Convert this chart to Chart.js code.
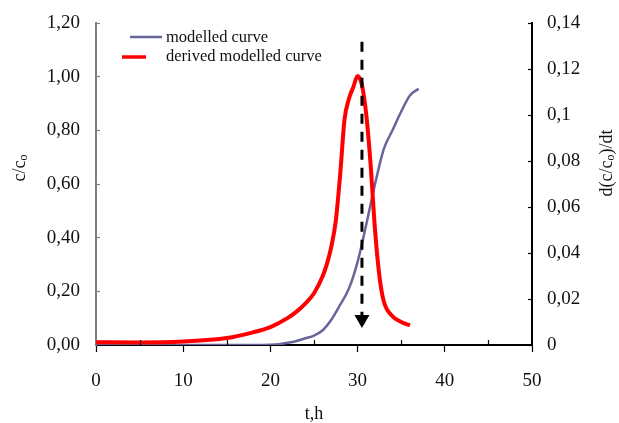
<!DOCTYPE html>
<html><head><meta charset="utf-8">
<script src="https://cdn.jsdelivr.net/npm/chart.js@4"></script>
<style>html,body{margin:0;padding:0;background:#fff}#wrap{width:619px;height:423px}</style>
</head><body><div id="wrap"><canvas id="c" width="619" height="423"></canvas></div>
<script>
const seriesNames = ['modelled curve', 'derived modelled curve'];
const modelTime   = [0, 5, 10, 15, 18, 20, 21, 22, 23, 24, 25, 26, 27, 28, 29, 30, 31, 32, 33, 34, 35, 36, 37];
const modelValues = [0, 0, 0, 0, 0, 0.001, 0.003, 0.008, 0.015, 0.025, 0.035, 0.055, 0.095, 0.15, 0.21, 0.31, 0.45, 0.60, 0.73, 0.80, 0.87, 0.93, 0.955];
const derivTime   = [0, 5, 10, 15, 18, 20, 22, 23, 24, 25, 26, 26.5, 27, 27.5, 28, 28.5, 29, 29.5, 30, 30.5, 31, 31.5, 32, 32.5, 33, 34, 35, 36];
const derivValues = [0.0012, 0.0011, 0.0015, 0.003, 0.0055, 0.0078, 0.0118, 0.0145, 0.018, 0.0225, 0.030, 0.0355, 0.043, 0.054, 0.074, 0.098, 0.107, 0.112, 0.117, 0.113, 0.100, 0.078, 0.050, 0.030, 0.019, 0.0125, 0.010, 0.0085];
const arrowTime   = [30.5, 30.5];
const arrowValues = [1.13, 0.096];
const xTickLabels     = ['0', '10', '20', '30', '40', '50'];
const xMinorTicks     = [5, 15, 25, 35, 45];
const leftTickLabels  = ['0,00', '0,20', '0,40', '0,60', '0,80', '1,00', '1,20'];
const rightTickLabels = ['0', '0,02', '0,04', '0,06', '0,08', '0,1', '0,12', '0,14'];

const FONT = '"Liberation Serif", "Times New Roman", serif';
const BLUE = '#66669c';
const RED = '#ff0000';
const TXT = '#111111';

const pts = (xs, ys) => xs.map((x, i) => ({x: x, y: ys[i]}));
const noPad = s => { s.paddingTop = 0; s.paddingBottom = 0; s.paddingLeft = 0; s.paddingRight = 0; };

const extras = {
  id: 'extras',
  afterDraw(chart) {
    const ctx = chart.ctx;
    const ca = chart.chartArea;
    const xs = chart.scales.x;
    ctx.save();
    ctx.strokeStyle = '#000';
    ctx.lineWidth = 1.2;
    xMinorTicks.forEach(v => {
      const px = Math.round(xs.getPixelForValue(v)) + 0.5;
      ctx.beginPath(); ctx.moveTo(px, ca.bottom); ctx.lineTo(px, ca.bottom - 5); ctx.stroke();
    });
    ctx.lineCap = 'butt';
    ctx.strokeStyle = BLUE; ctx.lineWidth = 2.5;
    ctx.beginPath(); ctx.moveTo(130, 37); ctx.lineTo(162, 37); ctx.stroke();
    ctx.strokeStyle = RED; ctx.lineWidth = 3.5;
    ctx.beginPath(); ctx.moveTo(122, 57); ctx.lineTo(146, 57); ctx.stroke();
    ctx.fillStyle = TXT;
    ctx.font = '16.5px ' + FONT;
    ctx.textAlign = 'left'; ctx.textBaseline = 'middle';
    ctx.fillText(seriesNames[0], 166, 38);
    ctx.fillText(seriesNames[1], 166, 57);
    ctx.font = '18px ' + FONT;
    ctx.textAlign = 'center';
    ctx.fillText('t,h', (ca.left + ca.right) / 2, 414);
    function rotTitle(parts, cx, cy) {
      ctx.save();
      ctx.translate(cx, cy);
      ctx.rotate(-Math.PI / 2);
      ctx.textAlign = 'left'; ctx.textBaseline = 'middle';
      let total = 0;
      parts.forEach(p => { ctx.font = (p.sub ? '12px ' : '18px ') + FONT; total += ctx.measureText(p.t).width; });
      let x = -total / 2;
      parts.forEach(p => {
        ctx.font = (p.sub ? '12px ' : '18px ') + FONT;
        ctx.fillText(p.t, x, p.sub ? 4 : 0);
        x += ctx.measureText(p.t).width;
      });
      ctx.restore();
    }
    rotTitle([{t: 'c/c'}, {t: 'o', sub: true}], 20, 168);
    rotTitle([{t: 'd(c/c'}, {t: 'o', sub: true}, {t: ')/dt'}], 607, 163);
    ctx.restore();
  }
};

new Chart(document.getElementById('c'), {
  type: 'line',
  data: {
    datasets: [
      {
        label: 'arrow',
        data: pts(arrowTime, arrowValues),
        yAxisID: 'y',
        borderColor: '#000',
        backgroundColor: '#000',
        borderWidth: 3,
        borderDash: [10, 8],
        pointRadius: [0, 8.7],
        pointStyle: 'triangle',
        pointRotation: 180,
        pointBorderWidth: 0,
        pointBackgroundColor: '#000',
        order: 0
      },
      {
        label: seriesNames[1],
        data: pts(derivTime, derivValues),
        yAxisID: 'y2',
        borderColor: RED,
        borderWidth: 4,
        pointRadius: 0,
        cubicInterpolationMode: 'monotone',
        order: 1
      },
      {
        label: seriesNames[0],
        data: pts(modelTime, modelValues),
        yAxisID: 'y',
        borderColor: BLUE,
        borderWidth: 2.5,
        pointRadius: 0,
        cubicInterpolationMode: 'monotone',
        order: 2
      }
    ]
  },
  options: {
    responsive: false,
    animation: false,
    devicePixelRatio: 1,
    layout: {padding: {top: 23, left: 0, right: 0, bottom: 0}},
    plugins: {legend: {display: false}, tooltip: {enabled: false}},
    scales: {
      x: {
        type: 'linear', position: 'bottom', min: 0, max: 50,
        afterFit: s => { s.height = 78; noPad(s); },
        border: {color: '#000', width: 2},
        grid: {drawOnChartArea: false, tickLength: 7, color: '#000', tickWidth: 1.2},
        ticks: {stepSize: 10, padding: 18, color: TXT, font: {family: FONT, size: 19},
          callback: v => xTickLabels[Math.round(v / 10)], autoSkip: false, maxRotation: 0}
      },
      y: {
        position: 'left', min: 0, max: 1.2,
        afterFit: s => { s.width = 96; noPad(s); },
        border: {color: '#808080', width: 2},
        grid: {drawOnChartArea: false, tickLength: -4, color: '#808080', tickWidth: 1.2},
        ticks: {stepSize: 0.2, padding: 20, color: TXT, font: {family: FONT, size: 19},
          callback: v => leftTickLabels[Math.round(v / 0.2)], autoSkip: false}
      },
      y2: {
        position: 'right', min: 0, max: 0.14,
        afterFit: s => { s.width = 87; noPad(s); },
        border: {color: '#000', width: 2},
        grid: {drawOnChartArea: false, tickLength: -4, color: '#000', tickWidth: 1.2},
        ticks: {stepSize: 0.02, padding: 19, color: TXT, font: {family: FONT, size: 19},
          callback: v => rightTickLabels[Math.round(v / 0.02)], autoSkip: false}
      }
    }
  },
  plugins: [extras]
});
</script>
</body></html>
